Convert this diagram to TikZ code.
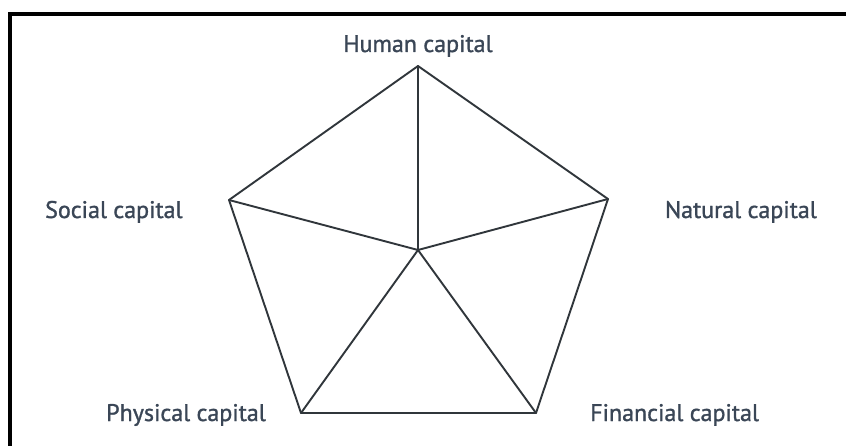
\documentclass[tikz,border=0pt]{standalone}
\usepackage{fontspec}
\setmainfont{PT Sans}
\newfontfamily\labfont{PT Sans}[FakeBold=1.2]
\definecolor{labelc}{HTML}{3A4656}
\definecolor{linec}{HTML}{30363B}
\begin{document}
\begin{tikzpicture}[x=1pt,y=-1pt,
  edge/.style={draw=linec,line width=1.9pt,line join=round,line cap=round},
  lab/.style={text=labelc,font=\labfont\fontsize{24}{27}\selectfont,inner sep=0pt}]
\useasboundingbox (0,0) rectangle (846,446);
\fill[white] (0,0) rectangle (846,446);
% frame
\draw[line width=4pt] (10,446) -- (10,14) -- (846,14);
% vertices
\coordinate (H) at (418,66);
\coordinate (S) at (229,200);
\coordinate (N) at (608,199);
\coordinate (P) at (301,413);
\coordinate (F) at (536,413);
\coordinate (C) at (418,250);
% pentagon and spokes
\draw[edge] (H) -- (N) -- (F) -- (P) -- (S) -- cycle;
\draw[edge] (C) -- (H);
\draw[edge] (C) -- (S);
\draw[edge] (C) -- (N);
\draw[edge] (C) -- (P);
\draw[edge] (C) -- (F);
% labels
\node[lab,anchor=base] (lH) at (418,52) {Human capital};
\node[lab,anchor=base west] (lS) at (45,218) {Social capital};
\node[lab,anchor=base east] (lN) at (817,218) {Natural capital};
\node[lab,anchor=base west] (lP) at (106,421) {Physical capital};
\node[lab,anchor=base west] (lF) at (590,421) {Financial capital};
\end{tikzpicture}
\end{document}
